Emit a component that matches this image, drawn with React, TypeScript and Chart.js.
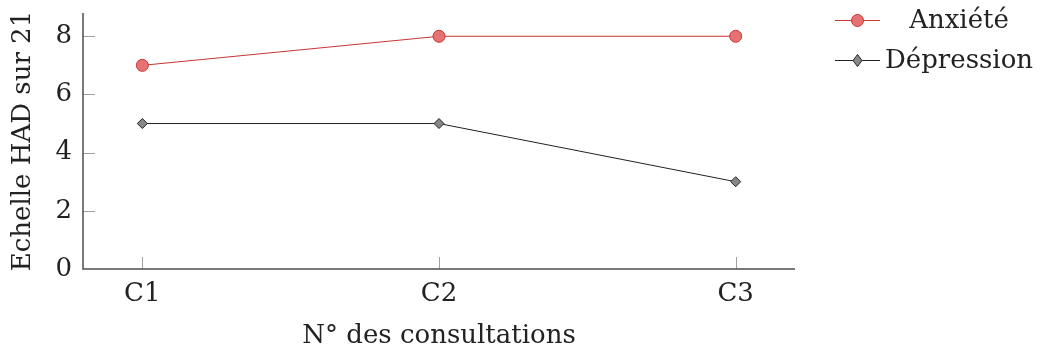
import React, { useEffect, useRef } from "react";
import { Chart, registerables } from "chart.js";

Chart.register(...registerables);

const categories = ["C1", "C2", "C3"];
const anxiete = [7, 8, 8];
const depression = [5, 5, 3];
const yTicks = [0, 2, 4, 6, 8];
const seriesNames = ["Anxiété", "Dépression"];

const FONT = "'DejaVu Serif', 'Liberation Serif', serif";
const FS = 26;
const AXIS_COLOR = "#4d4d4d";
const TICK_COLOR = "#a0a0a0";
const TEXT_COLOR = "#222";

const inwardTicks = {
  id: "inwardTicks",
  afterDraw(chart: any) {
    const ctx = chart.ctx;
    const x = chart.scales.x;
    const y = chart.scales.y;
    const area = chart.chartArea;
    ctx.save();
    ctx.strokeStyle = TICK_COLOR;
    ctx.lineWidth = 1;
    yTicks.forEach((v) => {
      const py = Math.round(y.getPixelForValue(v)) + 0.5;
      if (v === 0) return;
      ctx.beginPath();
      ctx.moveTo(area.left, py);
      ctx.lineTo(area.left + 12, py);
      ctx.stroke();
    });
    categories.forEach((_, i) => {
      const px = Math.round(x.getPixelForValue(i)) + 0.5;
      ctx.beginPath();
      ctx.moveTo(px, area.bottom);
      ctx.lineTo(px, area.bottom - 12);
      ctx.stroke();
    });
    ctx.strokeStyle = AXIS_COLOR;
    ctx.lineWidth = 1.5;
    ctx.beginPath();
    ctx.moveTo(area.left, area.top);
    ctx.lineTo(area.left, area.bottom);
    ctx.lineTo(area.right, area.bottom);
    ctx.stroke();
    ctx.restore();
  },
};

const customLegend = {
  id: "customLegend",
  afterDraw(chart: any) {
    const ctx = chart.ctx;
    ctx.save();
    chart.data.datasets.forEach((ds: any, i: number) => {
      const cy = 20 + i * 40;
      ctx.strokeStyle = ds.borderColor;
      ctx.lineWidth = 1;
      ctx.beginPath();
      ctx.moveTo(835, cy + 0.5);
      ctx.lineTo(880, cy + 0.5);
      ctx.stroke();
      ctx.fillStyle = ds.pointBackgroundColor;
      ctx.strokeStyle = ds.pointBorderColor;
      ctx.lineWidth = 1;
      ctx.beginPath();
      if (ds.pointStyle === "circle") {
        ctx.arc(857.5, cy + 0.5, 6, 0, Math.PI * 2);
      } else {
        const r = 6;
        ctx.moveTo(857.5, cy + 0.5 - r);
        ctx.lineTo(857.5 + r * 0.75, cy + 0.5);
        ctx.lineTo(857.5, cy + 0.5 + r);
        ctx.lineTo(857.5 - r * 0.75, cy + 0.5);
        ctx.closePath();
      }
      ctx.fill();
      ctx.stroke();
      ctx.fillStyle = TEXT_COLOR;
      ctx.font = `${FS}px ${FONT}`;
      ctx.textAlign = "center";
      ctx.textBaseline = "middle";
      ctx.fillText(ds.label, 959, cy + 1);
    });
    ctx.restore();
  },
};

export default function App() {
  const ref = useRef<HTMLCanvasElement>(null);
  useEffect(() => {
    if (!ref.current) return;
    const chart = new Chart(ref.current, {
      type: "line",
      data: {
        datasets: [
          {
            label: seriesNames[0],
            data: anxiete.map((v, i) => ({ x: i, y: v })),
            borderColor: "#cc3333",
            borderWidth: 1,
            pointStyle: "circle",
            pointRadius: 6,
            pointBackgroundColor: "#e57373",
            pointBorderColor: "#cc3333",
            pointBorderWidth: 1,
          },
          {
            label: seriesNames[1],
            data: depression.map((v, i) => ({ x: i, y: v })),
            borderColor: "#222222",
            borderWidth: 1,
            pointStyle: "rectRot",
            pointRadius: 5,
            pointBackgroundColor: "#888888",
            pointBorderColor: "#222222",
            pointBorderWidth: 1,
          },
        ],
      },
      options: {
        animation: false,
        responsive: false,
        layout: { padding: { left: 0, top: 13, right: 245, bottom: 0 } },
        plugins: { legend: { display: false }, tooltip: { enabled: false } },
        scales: {
          x: {
            type: "linear",
            min: -0.2,
            max: 2.2,
            afterFit: (s: any) => {
              s.height = 83;
              s.paddingLeft = 0;
              s.paddingRight = 0;
            },
            afterBuildTicks: (s: any) => {
              s.ticks = categories.map((_, i) => ({ value: i }));
            },
            border: { display: false },
            grid: { display: false, drawTicks: false },
            ticks: {
              padding: 12,
              color: TEXT_COLOR,
              font: { family: FONT, size: FS, lineHeight: 1 },
              callback: (v: any) => categories[v] ?? "",
            },
            title: {
              display: true,
              text: "N° des consultations",
              color: TEXT_COLOR,
              font: { family: FONT, size: FS, lineHeight: 1.2 },
              padding: { top: 0, bottom: 0 },
            },
          },
          y: {
            min: 0,
            max: 8.8,
            afterFit: (s: any) => {
              s.width = 83;
              s.paddingTop = 0;
              s.paddingBottom = 0;
            },
            afterBuildTicks: (s: any) => {
              s.ticks = yTicks.map((v) => ({ value: v }));
            },
            border: { display: false },
            grid: { display: false, drawTicks: false },
            ticks: {
              padding: 11,
              color: TEXT_COLOR,
              font: { family: FONT, size: FS, lineHeight: 1 },
            },
            title: {
              display: true,
              text: "Echelle HAD sur 21",
              color: TEXT_COLOR,
              font: { family: FONT, size: FS, lineHeight: 1.2 },
              padding: { top: 8, bottom: 0 },
            },
          },
        },
      },
      plugins: [inwardTicks, customLegend],
    });
    return () => chart.destroy();
  }, []);
  return (
    <div style={{ position: "absolute", left: 0, top: 0, width: 1040, height: 352, background: "#fff" }}>
      <canvas ref={ref} width={1040} height={352} />
    </div>
  );
}
